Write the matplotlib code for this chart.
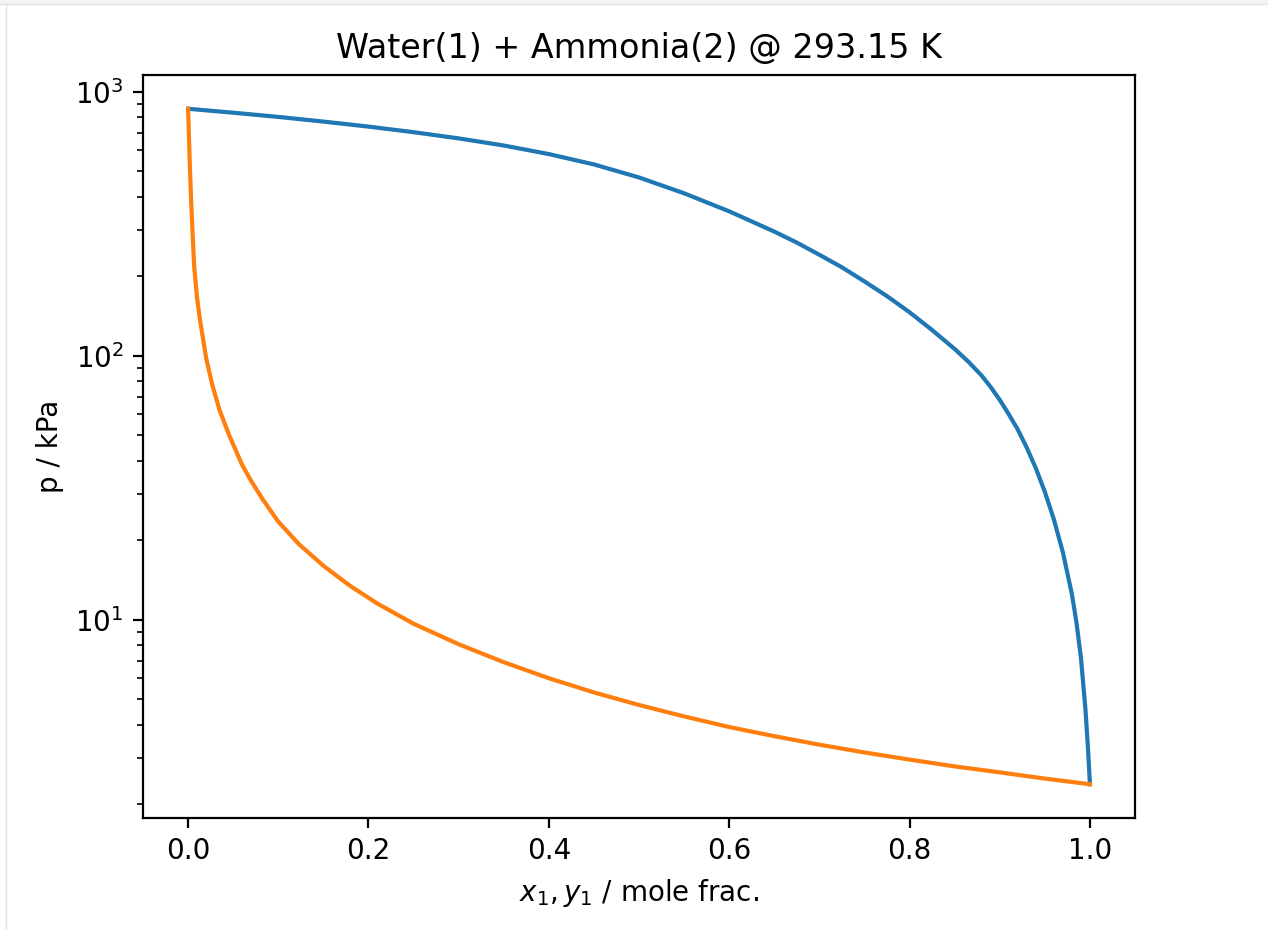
import matplotlib

matplotlib.use("Agg")
import matplotlib.pyplot as plt
from matplotlib.lines import Line2D
from matplotlib.patches import Rectangle

# Bubble line: liquid mole fraction of water vs pressure (kPa)
x1 = [0.00, 0.05, 0.10, 0.15, 0.20, 0.25, 0.30, 0.35, 0.40, 0.45,
      0.50, 0.55, 0.60, 0.65, 0.675, 0.70, 0.725, 0.75, 0.775, 0.80,
      0.825, 0.85, 0.865, 0.88, 0.89, 0.90, 0.91, 0.92, 0.93, 0.94,
      0.95, 0.96, 0.97, 0.98, 0.985, 0.99, 0.995, 0.998, 1.00]
p_bubble = [861, 832, 802, 770, 737, 702, 665, 625, 580, 530,
            473, 412, 352, 295, 268, 241, 216, 191, 168, 146,
            125, 106, 95, 84, 76, 68, 60, 52.5, 44.8, 37.5,
            30.5, 24, 18, 12.5, 9.8, 7.2, 4.6, 3.2, 2.38]

# Dew line: vapour mole fraction of water vs pressure (kPa)
y1 = [0.0, 0.0005, 0.001, 0.002, 0.0033, 0.005, 0.0067, 0.010, 0.013, 0.0155,
      0.020, 0.0266, 0.035, 0.0455, 0.060, 0.070, 0.082, 0.10, 0.123, 0.15,
      0.18, 0.21, 0.25, 0.30, 0.35, 0.40, 0.45, 0.50, 0.55, 0.60,
      0.65, 0.70, 0.75, 0.80, 0.85, 0.90, 0.95, 1.00]
p_dew = [861, 760, 662, 520, 392, 290, 218, 165, 138, 122,
         98, 78, 62, 50, 38.5, 33.5, 28.8, 23.5, 19.3, 16.0,
         13.4, 11.5, 9.65, 8.07, 6.9, 6.0, 5.3, 4.75, 4.3, 3.92,
         3.62, 3.36, 3.14, 2.95, 2.78, 2.64, 2.50, 2.38]

title = "Water(1) + Ammonia(2) @ 293.15 K"

fig = plt.figure(figsize=(6.34, 4.65), dpi=200)

# notebook cell frame
fig.add_artist(Rectangle((0, 1 - 4 / 930), 1, 4 / 930, transform=fig.transFigure,
                         color="#f3f3f3", lw=0))
fig.add_artist(Line2D([0, 1], [1 - 4 / 930] * 2, transform=fig.transFigure,
                      color="#e2e2e2", lw=0.5))
fig.add_artist(Line2D([6 / 1268] * 2, [0, 1 - 4 / 930], transform=fig.transFigure,
                      color="#e2e2e2", lw=0.5))

ax = fig.add_axes([143 / 1268, 1 - 818 / 930, 992 / 1268, 743 / 930])
ax.plot(x1, p_bubble)
ax.plot(y1, p_dew)
ax.set_yscale("log")
ax.set_title(title)
ax.set_xlabel("$x_1, y_1$ / mole frac.")
ax.set_ylabel("p / kPa")

fig.savefig("out.png", dpi=200)
